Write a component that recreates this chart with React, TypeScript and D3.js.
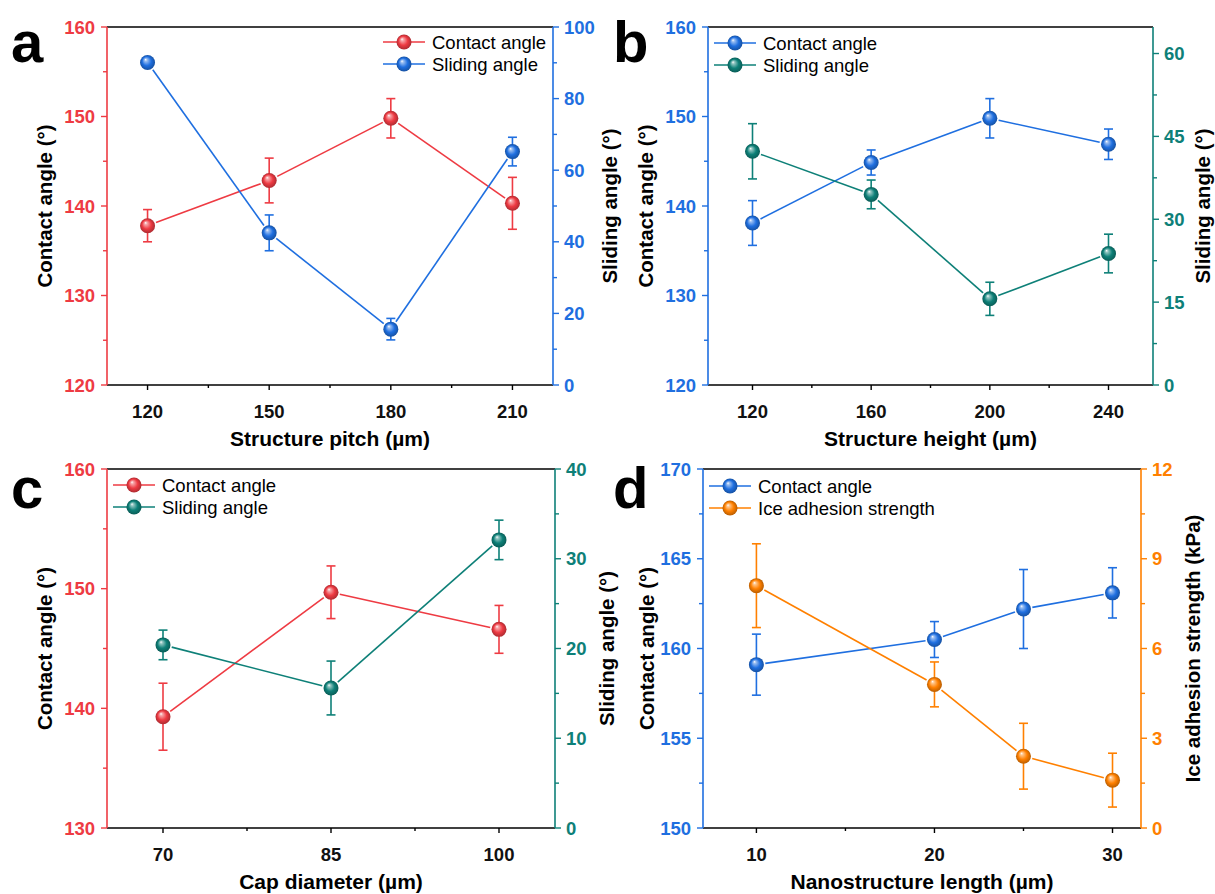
import React from "react";
import * as d3 from "d3";

// ---- panel a: structure pitch ----
const pitchA = [120, 150, 180, 210];
const contactA = [137.8, 142.85, 149.8, 140.3];
const contactAErr = [1.8, 2.5, 2.2, 2.9];
const slidingA = [90.1, 42.5, 15.6, 65.2];
const slidingAErr = [0.8, 5, 3, 4];

// ---- panel b: structure height ----
const heightB = [120, 160, 200, 240];
const contactB = [138.1, 144.86, 149.8, 146.9];
const contactBErr = [2.5, 1.4, 2.2, 1.7];
const slidingB = [42.3, 34.5, 15.6, 23.8];
const slidingBErr = [5, 2.6, 3, 3.5];

// ---- panel c: cap diameter ----
const capC = [70, 85, 100];
const contactC = [139.3, 149.7, 146.6];
const contactCErr = [2.8, 2.2, 2.0];
const slidingC = [20.4, 15.6, 32.1];
const slidingCErr = [1.65, 3.0, 2.2];

// ---- panel d: nanostructure length ----
const lengthD = [10, 20, 25, 30];
const contactD = [159.1, 160.5, 162.2, 163.1];
const contactDErr = [1.7, 1.0, 2.2, 1.4];
const iceD = [8.1, 4.8, 2.4, 1.6];
const iceDErr = [1.4, 0.75, 1.1, 0.9];

// ---- tick values ----
const ticksXA = [120, 150, 180, 210];
const minorXA = [135, 165, 195];
const ticksXB = [120, 160, 200, 240];
const minorXB = [140, 180, 220];
const ticksXC = [70, 85, 100];
const minorXC = [77.5, 92.5];
const ticksXD = [10, 20, 30];
const minorXD = [15, 25];

const ticksCA = [120, 130, 140, 150, 160];
const minorCA = [125, 135, 145, 155];
const ticksSA_A = [0, 20, 40, 60, 80, 100];
const minorSA_A = [10, 30, 50, 70, 90];
const ticksSA_B = [0, 15, 30, 45, 60];
const minorSA_B = [7.5, 22.5, 37.5, 52.5];
const ticksCA_C = [130, 140, 150, 160];
const minorCA_C = [135, 145, 155];
const ticksSA_C = [0, 10, 20, 30, 40];
const minorSA_C = [5, 15, 25, 35];
const ticksCA_D = [150, 155, 160, 165, 170];
const minorCA_D = [152.5, 157.5, 162.5, 167.5];
const ticksIce = [0, 3, 6, 9, 12];
const minorIce = [1.5, 4.5, 7.5, 10.5];

const RED = "#ee3b43";
const BLUE = "#1f6fe0";
const TEAL = "#0e8078";
const ORANGE = "#ff8000";

const FONT = "'Liberation Sans', Arial, Helvetica, sans-serif";

type Axis = { domain: number[]; ticks: number[]; minor: number[]; color: string; title: string; titleX: number };
type Series = { name: string; side: "left" | "right"; color: string; xs: number[]; ys: number[]; err: number[] };
type PanelCfg = {
  id: string;
  letter: string;
  letterX: number;
  letterY: number;
  left: number;
  right: number;
  top: number;
  bottom: number;
  xDomain: number[];
  xTicks: number[];
  xMinor: number[];
  xTitle: string;
  leftAxis: Axis;
  rightAxis: Axis;
  series: Series[];
  legendX: number;
  legendY: number;
};

const panels: PanelCfg[] = [
  {
    id: "a", letter: "a", letterX: 11, letterY: 62,
    left: 107, right: 553, top: 27, bottom: 385,
    xDomain: [110, 220], xTicks: ticksXA, xMinor: minorXA, xTitle: "Structure pitch (µm)",
    leftAxis: { domain: [120, 160], ticks: ticksCA, minor: minorCA, color: RED, title: "Contact angle (°)", titleX: 44 },
    rightAxis: { domain: [0, 100], ticks: ticksSA_A, minor: minorSA_A, color: BLUE, title: "Sliding angle (°)", titleX: 609 },
    series: [
      { name: "Contact angle", side: "left", color: RED, xs: pitchA, ys: contactA, err: contactAErr },
      { name: "Sliding angle", side: "right", color: BLUE, xs: pitchA, ys: slidingA, err: slidingAErr },
    ],
    legendX: 404, legendY: 42,
  },
  {
    id: "b", letter: "b", letterX: 613, letterY: 62,
    left: 708, right: 1153, top: 27, bottom: 385,
    xDomain: [105, 255], xTicks: ticksXB, xMinor: minorXB, xTitle: "Structure height (µm)",
    leftAxis: { domain: [120, 160], ticks: ticksCA, minor: minorCA, color: BLUE, title: "Contact angle (°)", titleX: 645 },
    rightAxis: { domain: [0, 64.8], ticks: ticksSA_B, minor: minorSA_B, color: TEAL, title: "Sliding angle (°)", titleX: 1202 },
    series: [
      { name: "Contact angle", side: "left", color: BLUE, xs: heightB, ys: contactB, err: contactBErr },
      { name: "Sliding angle", side: "right", color: TEAL, xs: heightB, ys: slidingB, err: slidingBErr },
    ],
    legendX: 735, legendY: 43,
  },
  {
    id: "c", letter: "c", letterX: 11, letterY: 508,
    left: 107, right: 555, top: 469, bottom: 828,
    xDomain: [65, 105], xTicks: ticksXC, xMinor: minorXC, xTitle: "Cap diameter (µm)",
    leftAxis: { domain: [130, 160], ticks: ticksCA_C, minor: minorCA_C, color: RED, title: "Contact angle (°)", titleX: 44 },
    rightAxis: { domain: [0, 40], ticks: ticksSA_C, minor: minorSA_C, color: TEAL, title: "Sliding angle (°)", titleX: 606 },
    series: [
      { name: "Contact angle", side: "left", color: RED, xs: capC, ys: contactC, err: contactCErr },
      { name: "Sliding angle", side: "right", color: TEAL, xs: capC, ys: slidingC, err: slidingCErr },
    ],
    legendX: 134, legendY: 485,
  },
  {
    id: "d", letter: "d", letterX: 613, letterY: 508,
    left: 703, right: 1141, top: 469, bottom: 828,
    xDomain: [7, 31.6], xTicks: ticksXD, xMinor: minorXD, xTitle: "Nanostructure length (µm)",
    leftAxis: { domain: [150, 170], ticks: ticksCA_D, minor: minorCA_D, color: BLUE, title: "Contact angle (°)", titleX: 646 },
    rightAxis: { domain: [0, 12], ticks: ticksIce, minor: minorIce, color: ORANGE, title: "Ice adhesion strength (kPa)", titleX: 1192 },
    series: [
      { name: "Contact angle", side: "left", color: BLUE, xs: lengthD, ys: contactD, err: contactDErr },
      { name: "Ice adhesion strength", side: "right", color: ORANGE, xs: lengthD, ys: iceD, err: iceDErr },
    ],
    legendX: 730, legendY: 486,
  },
];

const R = 7.5;

function gradId(color: string) {
  return "sphere-" + color.replace("#", "");
}

function SphereGradient({ color }: { color: string }) {
  const c = d3.color(color)!;
  const light = d3.interpolateRgb(color, "#ffffff")(0.55);
  const dark = c.darker(0.9).formatHex();
  return (
    <radialGradient id={gradId(color)} cx="0.5" cy="0.5" r="0.5" fx="0.36" fy="0.3">
      <stop offset="0%" stopColor="#ffffff" />
      <stop offset="18%" stopColor={light} />
      <stop offset="60%" stopColor={color} />
      <stop offset="100%" stopColor={dark} />
    </radialGradient>
  );
}

function Marker({ cx, cy, color }: { cx: number; cy: number; color: string }) {
  return <circle cx={cx} cy={cy} r={R} fill={`url(#${gradId(color)})`} />;
}

function Panel({ cfg }: { cfg: PanelCfg }) {
  const x = d3.scaleLinear().domain(cfg.xDomain).range([cfg.left, cfg.right]);
  const yL = d3.scaleLinear().domain(cfg.leftAxis.domain).range([cfg.bottom, cfg.top]);
  const yR = d3.scaleLinear().domain(cfg.rightAxis.domain).range([cfg.bottom, cfg.top]);
  const midY = (cfg.top + cfg.bottom) / 2;
  const midX = (cfg.left + cfg.right) / 2;
  const axisW = 1.6;

  const seriesEls = cfg.series.map((s) => {
    const y = s.side === "left" ? yL : yR;
    const pts = s.xs.map((xv, i) => [x(xv), y(s.ys[i])] as [number, number]);
    // connecting segments, stopped short of each marker
    const gap = R + 1.5;
    const segs = pts.slice(1).map((p, i) => {
      const a = pts[i];
      const dx = p[0] - a[0];
      const dy = p[1] - a[1];
      const len = Math.hypot(dx, dy);
      const ux = dx / len;
      const uy = dy / len;
      return (
        <line
          key={"s" + i}
          x1={a[0] + ux * gap}
          y1={a[1] + uy * gap}
          x2={p[0] - ux * gap}
          y2={p[1] - uy * gap}
          stroke={s.color}
          strokeWidth={1.6}
        />
      );
    });
    const errs = s.xs.map((xv, i) => {
      const px = x(xv);
      const hi = y(s.ys[i] + s.err[i]);
      const lo = y(s.ys[i] - s.err[i]);
      return (
        <g key={"e" + i} stroke={s.color} strokeWidth={1.6}>
          <line x1={px} x2={px} y1={hi} y2={lo} />
          <line x1={px - 4.5} x2={px + 4.5} y1={hi} y2={hi} />
          <line x1={px - 4.5} x2={px + 4.5} y1={lo} y2={lo} />
        </g>
      );
    });
    const marks = pts.map((p, i) => <Marker key={"m" + i} cx={p[0]} cy={p[1]} color={s.color} />);
    return (
      <g key={s.name}>
        {segs}
        {errs}
        {marks}
      </g>
    );
  });

  return (
    <g>
      {/* panel letter */}
      <text x={cfg.letterX} y={cfg.letterY} fontFamily={FONT} fontWeight="bold" fontSize={58} fill="#000">
        {cfg.letter}
      </text>

      {/* frame: top and bottom in black */}
      <line x1={cfg.left} x2={cfg.right} y1={cfg.top} y2={cfg.top} stroke="#000" strokeWidth={axisW} />
      <line x1={cfg.left} x2={cfg.right} y1={cfg.bottom} y2={cfg.bottom} stroke="#000" strokeWidth={axisW} />

      {/* bottom axis ticks */}
      {cfg.xTicks.map((t) => (
        <g key={"xt" + t}>
          <line x1={x(t)} x2={x(t)} y1={cfg.bottom} y2={cfg.bottom + 5} stroke="#000" strokeWidth={1.4} />
          <text
            x={x(t)}
            y={cfg.bottom + 26}
            textAnchor="middle"
            dominantBaseline="central"
            fontFamily={FONT}
            fontWeight="bold"
            fontSize={18.5}
            fill="#111"
          >
            {t}
          </text>
        </g>
      ))}
      {cfg.xMinor.map((t) => (
        <line key={"xm" + t} x1={x(t)} x2={x(t)} y1={cfg.bottom} y2={cfg.bottom + 3} stroke="#000" strokeWidth={1.4} />
      ))}
      <text
        x={midX}
        y={cfg.bottom + 61}
        textAnchor="middle"
        fontFamily={FONT}
        fontWeight="bold"
        fontSize={21}
        fill="#000"
      >
        {cfg.xTitle}
      </text>

      {/* left axis */}
      <line x1={cfg.left} x2={cfg.left} y1={cfg.top} y2={cfg.bottom} stroke={cfg.leftAxis.color} strokeWidth={axisW} />
      {cfg.leftAxis.ticks.map((t) => (
        <g key={"lt" + t}>
          <line x1={cfg.left - 6} x2={cfg.left} y1={yL(t)} y2={yL(t)} stroke={cfg.leftAxis.color} strokeWidth={1.4} />
          <text
            x={cfg.left - 12}
            y={yL(t)}
            textAnchor="end"
            dominantBaseline="central"
            fontFamily={FONT}
            fontWeight="bold"
            fontSize={18.5}
            fill={cfg.leftAxis.color}
          >
            {t}
          </text>
        </g>
      ))}
      {cfg.leftAxis.minor.map((t) => (
        <line key={"lm" + t} x1={cfg.left - 4} x2={cfg.left} y1={yL(t)} y2={yL(t)} stroke={cfg.leftAxis.color} strokeWidth={1.4} />
      ))}
      <text
        transform={`translate(${cfg.leftAxis.titleX},${midY}) rotate(-90)`}
        textAnchor="middle"
        dominantBaseline="central"
        fontFamily={FONT}
        fontWeight="bold"
        fontSize={20.5}
        fill="#000"
      >
        {cfg.leftAxis.title}
      </text>

      {/* right axis */}
      <line x1={cfg.right} x2={cfg.right} y1={cfg.top} y2={cfg.bottom} stroke={cfg.rightAxis.color} strokeWidth={axisW} />
      {cfg.rightAxis.ticks.map((t) => (
        <g key={"rt" + t}>
          <line x1={cfg.right} x2={cfg.right + 6} y1={yR(t)} y2={yR(t)} stroke={cfg.rightAxis.color} strokeWidth={1.4} />
          <text
            x={cfg.right + 11}
            y={yR(t)}
            textAnchor="start"
            dominantBaseline="central"
            fontFamily={FONT}
            fontWeight="bold"
            fontSize={18.5}
            fill={cfg.rightAxis.color}
          >
            {t}
          </text>
        </g>
      ))}
      {cfg.rightAxis.minor.map((t) => (
        <line key={"rm" + t} x1={cfg.right} x2={cfg.right + 4} y1={yR(t)} y2={yR(t)} stroke={cfg.rightAxis.color} strokeWidth={1.4} />
      ))}
      <text
        transform={`translate(${cfg.rightAxis.titleX},${midY}) rotate(-90)`}
        textAnchor="middle"
        dominantBaseline="central"
        fontFamily={FONT}
        fontWeight="bold"
        fontSize={20.5}
        fill="#000"
      >
        {cfg.rightAxis.title}
      </text>

      {/* data */}
      {seriesEls}

      {/* legend */}
      {cfg.series.map((s, i) => {
        const ly = cfg.legendY + i * 22;
        return (
          <g key={"lg" + i}>
            <line x1={cfg.legendX - 21} x2={cfg.legendX + 21} y1={ly} y2={ly} stroke={s.color} strokeWidth={1.6} />
            <Marker cx={cfg.legendX} cy={ly} color={s.color} />
            <text
              x={cfg.legendX + 28}
              y={ly}
              dominantBaseline="central"
              fontFamily={FONT}
              fontSize={18.5}
              fill="#000"
            >
              {s.name}
            </text>
          </g>
        );
      })}
    </g>
  );
}

export default function App() {
  const colors = [RED, BLUE, TEAL, ORANGE];
  return (
    <svg
      width={1215}
      height={894}
      viewBox="0 0 1215 894"
      style={{ position: "absolute", left: 0, top: 0, background: "#fff" }}
    >
      <defs>
        {colors.map((c) => (
          <SphereGradient key={c} color={c} />
        ))}
      </defs>
      <rect width={1215} height={894} fill="#fff" />
      {panels.map((p) => (
        <Panel key={p.id} cfg={p} />
      ))}
    </svg>
  );
}
